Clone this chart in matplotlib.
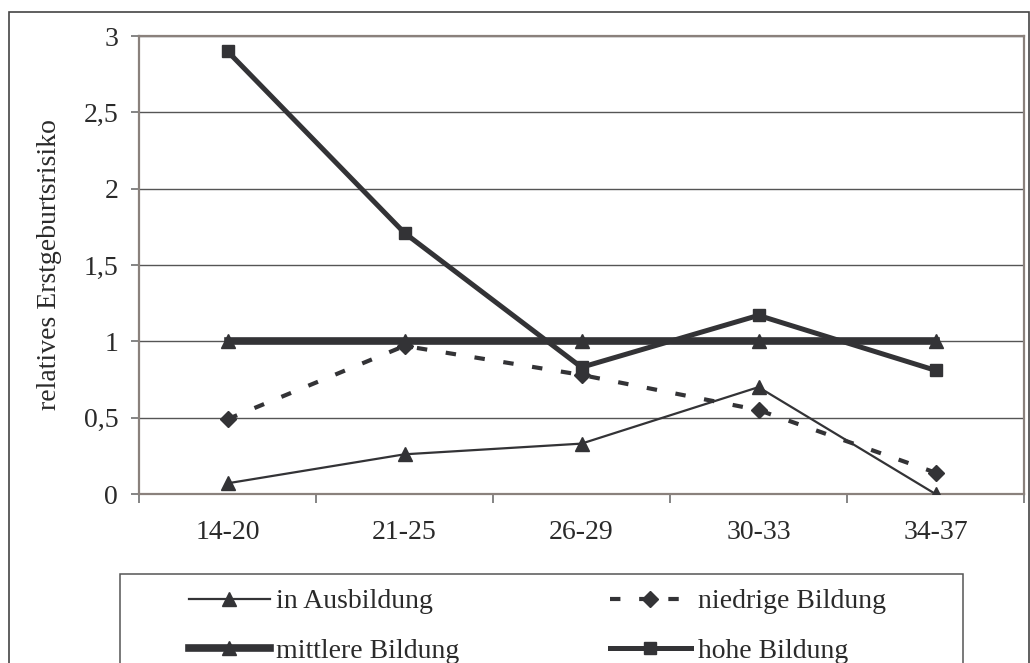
import matplotlib
matplotlib.use("Agg")
import matplotlib.pyplot as plt
from matplotlib.patches import Rectangle
from matplotlib.lines import Line2D
from matplotlib.ticker import FuncFormatter, FixedLocator

categories = ["14-20", "21-25", "26-29", "30-33", "34-37"]
in_ausbildung = [0.07, 0.26, 0.33, 0.70, 0.0]
niedrige = [0.49, 0.97, 0.78, 0.55, 0.14]
mittlere = [1.0, 1.0, 1.0, 1.0, 1.0]
hohe = [2.90, 1.71, 0.83, 1.17, 0.81]
y_ticks = [0, 0.5, 1, 1.5, 2, 2.5, 3]

plt.rcParams['font.family'] = ['Liberation Serif', 'DejaVu Serif']
C = '#333336'
TC = '#2a2a2a'
FS = 20

fig = plt.figure(figsize=(10.3, 6.63), dpi=100)
W, H = 1030, 663
ax = fig.add_axes([139 / W, 1 - 494 / H, 885 / W, 458 / H])

x = list(range(len(categories)))
ax.plot(x, in_ausbildung, color=C, lw=1.6, marker='^', ms=10, zorder=3)
ax.plot(x, niedrige, color=C, lw=3, dashes=(2.5, 4.5), marker='D', ms=8, zorder=3)
ax.plot(x, hohe, color=C, lw=3.6, marker='s', ms=8, zorder=3)
ax.plot(x, mittlere, color=C, lw=5.5, marker='^', ms=10, zorder=4)

ax.set_xlim(-0.5, len(categories) - 0.5)
ax.set_ylim(0, 3)
ax.set_yticks(y_ticks)
ax.yaxis.set_major_formatter(FuncFormatter(lambda v, p: ('%g' % v).replace('.', ',')))
ax.grid(axis='y', color='#555555', lw=1)
ax.set_axisbelow(True)

ax.xaxis.set_major_locator(FixedLocator([i - 0.5 for i in range(len(categories) + 1)]))
ax.xaxis.set_major_formatter(FuncFormatter(lambda v, p: ''))
ax.xaxis.set_minor_locator(FixedLocator(x))
ax.set_xticklabels(categories, minor=True)
ax.tick_params(axis='x', which='minor', length=0, pad=19, labelsize=FS, colors=TC)
ax.tick_params(axis='x', which='major', length=6.5, color='#707070', width=1.2)
ax.tick_params(axis='y', length=6, color='#707070', width=1.2, labelsize=FS, pad=9,
               labelcolor=TC)
for s in ax.spines.values():
    s.set_color('#8a817c')
    s.set_linewidth(1.6)

ax.set_ylabel('relatives Erstgeburtsrisiko', fontsize=FS, color=TC)
ax.yaxis.set_label_coords((62 - 139) / 885, 0.5)

# outer frame
fig.patches.append(Rectangle((9 / W, -0.05), (1029 - 9) / W, 1 - 12 / H + 0.05,
                             transform=fig.transFigure, fill=False, ec='#444444', lw=1.2))
# legend frame
fig.patches.append(Rectangle((120 / W, -0.05), (963 - 120) / W, 1 - 574 / H + 0.05,
                             transform=fig.transFigure, fill=False, ec='#555555', lw=1.1))

h_aus = Line2D([], [], color=C, lw=1.6, marker='^', ms=10)
h_mit = Line2D([], [], color=C, lw=5.5, marker='^', ms=10)
h_nie = Line2D([], [], color=C, lw=3, dashes=(2.5, 4.5), marker='D', ms=8)
h_hoh = Line2D([], [], color=C, lw=3.6, marker='s', ms=8)

common = dict(loc='upper left', frameon=False, fontsize=FS, handlelength=2.9,
              handletextpad=0.25, labelspacing=0.85, labelcolor=TC,
              borderpad=0, borderaxespad=0)
fig.legend([h_aus, h_mit], ['in Ausbildung', 'mittlere Bildung'],
           bbox_to_anchor=(189 / W, 1 - 589 / H), **common)
fig.legend([h_nie, h_hoh], ['niedrige Bildung', 'hohe Bildung'],
           bbox_to_anchor=(610 / W, 1 - 589 / H), **common)

fig.savefig('out.png', dpi=100)
